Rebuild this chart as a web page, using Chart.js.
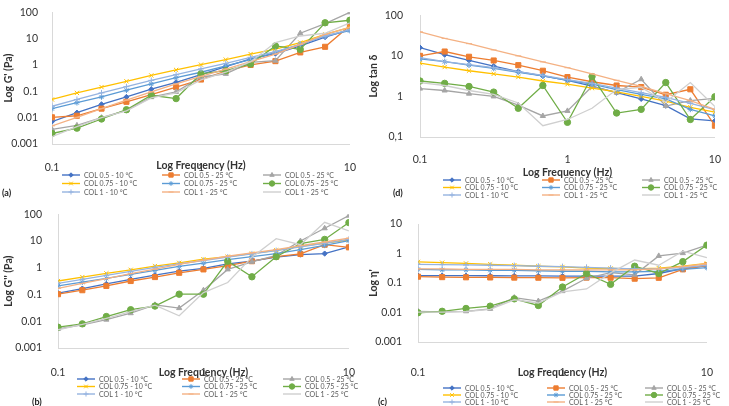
<!DOCTYPE html>
<html>
<head>
<meta charset="utf-8">
<script src="https://cdn.jsdelivr.net/npm/chart.js@4/dist/chart.umd.min.js"></script>
<style>
    body { margin: 0; background: #fff; }
    #wrap { position: relative; width: 729px; height: 406px; overflow: hidden; }
    .panel { position: absolute; }
</style>
</head>
<body>
<div id="wrap">
    <div class="panel" style="left:0;top:0"><canvas id="chartA" width="365" height="200"></canvas></div>
    <div class="panel" style="left:365px;top:0"><canvas id="chartD" width="364" height="200"></canvas></div>
    <div class="panel" style="left:0;top:200px"><canvas id="chartB" width="365" height="206"></canvas></div>
    <div class="panel" style="left:365px;top:200px"><canvas id="chartC" width="364" height="206"></canvas></div>
</div>
<script>
(function() {
    'use strict';

    // ---- data ----
    const frequency = [0.1, 0.147, 0.215, 0.316, 0.464, 0.681, 1, 1.468, 2.154, 3.162, 4.642, 6.813, 10];
    const xTickValues = [0.1, 1, 10];
    const xTickLabels = ['0.1', '1', '10'];

    const seriesNames = [
        'COL 0.5 - 10 °C', 'COL 0.5 - 25 °C', 'COL 0.5 - 25 °C',
        'COL 0.75 - 10 °C', 'COL 0.75 - 25 °C', 'COL 0.75 - 25 °C',
        'COL 1 - 10 °C', 'COL 1 - 25 °C', 'COL 1 - 25 °C'
    ];

    // (a) storage modulus G'
    const storageModulus = [
        [0.0071, 0.0155, 0.032, 0.061, 0.12, 0.22, 0.43, 0.87, 1.7, 2.7, 5.3, 11.5, 22],
        [0.0103, 0.0118, 0.022, 0.04, 0.075, 0.145, 0.28, 0.58, 1.0, 1.4, 3.0, 4.9, 31],
        [0.0036, 0.0051, 0.010, 0.019, 0.06, 0.095, 0.35, 0.46, 1.26, 1.45, 16, 37, 100],
        [0.049, 0.087, 0.145, 0.24, 0.4, 0.65, 1.03, 1.6, 2.6, 4.0, 7.1, 14.5, 27],
        [0.022, 0.037, 0.061, 0.11, 0.19, 0.33, 0.53, 0.92, 1.6, 3.0, 6.1, 12.6, 20],
        [0.0025, 0.004, 0.0089, 0.020, 0.071, 0.053, 0.46, 0.61, 1.09, 5.3, 3.9, 40, 50],
        [0.027, 0.049, 0.087, 0.15, 0.26, 0.43, 0.71, 1.15, 1.94, 3.2, 6.1, 12.6, 22],
        [0.0049, 0.0103, 0.022, 0.046, 0.095, 0.19, 0.37, 0.7, 1.33, 2.6, 6.1, 14.5, 27],
        [0.0019, 0.0046, 0.010, 0.018, 0.056, 0.087, 0.27, 0.53, 1.33, 7.1, 12.6, 16, 40]
    ];
    const storageTicks = [0.001, 0.01, 0.1, 1, 10, 100];
    const storageTickLabels = ['0.001', '0.01', '0.1', '1', '10', '100'];

    // (d) loss tangent tan δ
    const lossTangent = [
        [16, 10.7, 7.7, 5.6, 4.1, 3.2, 2.5, 1.8, 1.24, 0.87, 0.59, 0.28, 0.25],
        [10, 12.8, 9.5, 7.7, 5.9, 4.3, 3.0, 2.3, 1.86, 1.7, 1.1, 1.5, 0.19],
        [1.56, 1.4, 1.17, 1.0, 0.61, 0.33, 0.44, 1.76, 1.24, 2.65, 0.58, 0.79, 0.9],
        [6.6, 5.3, 4.3, 3.6, 3.0, 2.4, 2.0, 1.6, 1.3, 1.0, 0.77, 0.54, 0.41],
        [8.4, 7.2, 5.9, 4.9, 3.9, 3.2, 2.5, 2.0, 1.48, 1.13, 0.87, 0.48, 0.33],
        [2.4, 2.1, 1.76, 1.28, 0.51, 1.86, 0.23, 3.1, 0.39, 0.48, 2.2, 0.27, 0.98],
        [9.1, 7.2, 6.1, 5.1, 4.1, 3.3, 2.6, 2.1, 1.6, 1.24, 0.95, 0.67, 0.47],
        [39, 27, 20, 14, 10, 7.1, 5.1, 3.6, 2.5, 1.76, 1.17, 0.79, 0.48],
        [2.2, 1.86, 1.4, 1.13, 0.69, 0.19, 0.27, 0.51, 1.48, 1.67, 0.73, 2.2, 0.56]
    ];
    const tanTicks = [0.1, 1, 10, 100];
    const tanTickLabels = ['0,1', '1', '10', '100'];

    // (b) loss modulus G''
    const lossModulus = [
        [0.112, 0.167, 0.25, 0.37, 0.53, 0.75, 0.95, 1.4, 1.76, 2.5, 3.1, 3.4, 6.0],
        [0.103, 0.145, 0.21, 0.32, 0.45, 0.65, 0.87, 1.2, 1.76, 2.6, 3.3, 7.3, 5.8],
        [0.0052, 0.0074, 0.0115, 0.020, 0.041, 0.031, 0.145, 0.87, 1.67, 2.9, 10, 30, 89],
        [0.32, 0.45, 0.62, 0.84, 1.15, 1.53, 2.1, 2.6, 3.4, 4.5, 6.3, 8.4, 10.8],
        [0.21, 0.29, 0.40, 0.57, 0.8, 1.12, 1.49, 2.0, 2.6, 3.4, 4.8, 6.9, 10.3],
        [0.006, 0.008, 0.015, 0.027, 0.037, 0.103, 0.103, 1.76, 0.46, 2.6, 8.0, 11.5, 49],
        [0.26, 0.37, 0.52, 0.73, 1.03, 1.4, 1.87, 2.5, 3.3, 4.4, 6.0, 8.2, 11.8],
        [0.17, 0.26, 0.39, 0.6, 0.89, 1.33, 1.92, 2.7, 3.6, 4.8, 6.7, 9.2, 12.9],
        [0.0048, 0.0076, 0.0129, 0.023, 0.04, 0.016, 0.118, 0.28, 2.5, 12.2, 7.3, 50, 24]
    ];
    const lossTicks = [0.001, 0.01, 0.1, 1, 10, 100];
    const lossTickLabels = ['0.001', '0.01', '0.1', '1', '10', '100'];

    // (c) dynamic viscosity η'
    const viscosity = [
        [0.178, 0.178, 0.177, 0.176, 0.175, 0.174, 0.172, 0.17, 0.17, 0.17, 0.21, 0.31, 0.38],
        [0.164, 0.158, 0.156, 0.154, 0.152, 0.151, 0.15, 0.152, 0.151, 0.14, 0.15, 0.29, 0.4],
        [0.011, 0.0105, 0.011, 0.0133, 0.032, 0.0245, 0.053, 0.145, 0.225, 0.19, 0.83, 1.03, 1.92],
        [0.52, 0.49, 0.46, 0.43, 0.40, 0.37, 0.35, 0.32, 0.31, 0.30, 0.32, 0.37, 0.46],
        [0.29, 0.28, 0.28, 0.27, 0.27, 0.26, 0.25, 0.25, 0.24, 0.24, 0.25, 0.29, 0.33],
        [0.0098, 0.011, 0.0137, 0.0164, 0.029, 0.0173, 0.073, 0.21, 0.09, 0.37, 0.21, 0.53, 1.92],
        [0.43, 0.42, 0.41, 0.40, 0.39, 0.37, 0.36, 0.34, 0.32, 0.30, 0.30, 0.33, 0.40],
        [0.30, 0.30, 0.29, 0.29, 0.29, 0.28, 0.28, 0.28, 0.28, 0.28, 0.30, 0.36, 0.45],
        [0.0103, 0.0103, 0.0108, 0.0128, 0.027, 0.021, 0.05, 0.063, 0.22, 0.6, 0.4, 1.2, 0.73]
    ];
    const viscTicks = [0.001, 0.01, 0.1, 1, 10];
    const viscTickLabels = ['0.001', '0.01', '0.1', '1', '10'];

    // ---- styles (Excel-like palette) ----
    const colors = ['#4472C4', '#ED7D31', '#A5A5A5', '#FFC000', '#5B9BD5', '#70AD47', '#95B3E0', '#F4B183', '#CFCFCF'];
    const markers = ['rectRot', 'rect', 'triangle', 'crossRot', 'star', 'circle', 'cross', 'line', 'circle'];
    const markerSizes = [2.6, 3.6, 3, 3, 2.8, 3.2, 3, 3, 0];
    const FONT = 'Lato, "Open Sans", sans-serif';

    // Legend in 3 columns x 3 rows + panel tag, drawn under the plot
    const gridLegend = {
        id: 'gridLegend',
        afterDraw(chart, args, opts) {
            const ctx = chart.ctx;
            ctx.save();
            ctx.textBaseline = 'middle';
            chart.data.datasets.forEach((ds, i) => {
                const x = opts.cols[i % 3];
                const y = opts.top + Math.floor(i / 3) * opts.rowH;
                ctx.strokeStyle = ds.borderColor;
                ctx.lineWidth = 1.4;
                ctx.beginPath();
                ctx.moveTo(x, y);
                ctx.lineTo(x + 18, y);
                ctx.stroke();
                if (ds.pointRadius > 0) {
                    ctx.fillStyle = ds.borderColor;
                    ctx.lineWidth = 1;
                    Chart.helpers.drawPoint(ctx, {
                        pointStyle: ds.pointStyle,
                        radius: ds.pointRadius * 0.85,
                        borderWidth: 1
                    }, x + 9, y);
                }
                ctx.font = '7px ' + FONT;
                ctx.fillStyle = '#595959';
                ctx.fillText(ds.label, x + 22, y + 0.5);
            });
            ctx.font = 'bold 9px ' + FONT;
            ctx.fillStyle = '#222';
            ctx.fillText(opts.tag, opts.tagX, opts.tagY);
            ctx.restore();
        }
    };

    function buildChart(id, cfg) {
        const datasets = cfg.values.map((row, i) => ({
            label: seriesNames[i],
            data: row.map((v, k) => ({ x: frequency[k], y: v })),
            borderColor: colors[i],
            backgroundColor: colors[i],
            borderWidth: 1.3,
            pointStyle: markers[i],
            pointRadius: markerSizes[i],
            pointBorderWidth: 1,
            tension: 0,
            order: 8 - i
        }));

        return new Chart(document.getElementById(id), {
            type: 'line',
            data: { datasets: datasets },
            plugins: [gridLegend],
            options: {
                responsive: false,
                animation: false,
                layout: { padding: cfg.padding },
                plugins: {
                    legend: { display: false },
                    tooltip: { enabled: false },
                    gridLegend: cfg.legend
                },
                scales: {
                    x: {
                        type: 'logarithmic',
                        min: 0.1,
                        max: 10,
                        grid: { display: false },
                        border: { display: true, color: '#D9D9D9', width: 1 },
                        afterBuildTicks: scale => { scale.ticks = xTickValues.map(v => ({ value: v })); },
                        afterFit: scale => { scale.height = cfg.xHeight; },
                        ticks: {
                            autoSkip: false,
                            maxRotation: 0,
                            padding: cfg.xPad,
                            color: '#333',
                            font: { family: FONT, size: 10.5 },
                            callback: v => xTickLabels[xTickValues.indexOf(v)]
                        },
                        title: {
                            display: true,
                            text: 'Log Frequency (Hz)',
                            color: '#333',
                            padding: 0,
                            font: { family: FONT, size: 10.5, weight: 'bold' }
                        }
                    },
                    y: {
                        type: 'logarithmic',
                        min: cfg.yTicks[0],
                        max: cfg.yTicks[cfg.yTicks.length - 1],
                        grid: { display: false },
                        border: { display: true, color: '#D9D9D9', width: 1 },
                        afterBuildTicks: scale => { scale.ticks = cfg.yTicks.map(v => ({ value: v })); },
                        afterFit: scale => { scale.width = cfg.yWidth; },
                        ticks: {
                            autoSkip: false,
                            padding: cfg.yPad,
                            color: '#333',
                            font: { family: FONT, size: 10.5 },
                            callback: v => cfg.yLabels[cfg.yTicks.indexOf(v)]
                        },
                        title: {
                            display: true,
                            text: cfg.yTitle,
                            color: '#333',
                            padding: { top: 2, bottom: 0 },
                            font: { family: FONT, size: 10.5, weight: 'bold' }
                        }
                    }
                }
            }
        });
    }

    document.addEventListener('DOMContentLoaded', function() {
        buildChart('chartA', {
            values: storageModulus, yTicks: storageTicks, yLabels: storageTickLabels,
            yTitle: "Log G' (Pa)", yWidth: 52, yPad: 6, xHeight: 28, xPad: 9,
            padding: { top: 11, right: 7, bottom: 28, left: 0 },
            legend: { cols: [62, 162, 263], top: 175, rowH: 8.5, tag: '(a)', tagX: 2, tagY: 193 }
        });
        buildChart('chartD', {
            values: lossTangent, yTicks: tanTicks, yLabels: tanTickLabels,
            yTitle: 'Log tan δ', yWidth: 55, yPad: 9, xHeight: 42, xPad: 8,
            padding: { top: 7, right: 6, bottom: 21, left: 0 },
            legend: { cols: [78, 177, 277], top: 180, rowH: 7.5, tag: '(d)', tagX: 28, tagY: 193 }
        });
        buildChart('chartB', {
            values: lossModulus, yTicks: lossTicks, yLabels: lossTickLabels,
            yTitle: "Log G'' (Pa)", yWidth: 58, yPad: 8, xHeight: 31, xPad: 10,
            padding: { top: 13, right: 11, bottom: 27, left: 0 },
            legend: { cols: [77, 182, 283], top: 179, rowH: 7.5, tag: '(b)', tagX: 32, tagY: 202 }
        });
        buildChart('chartC', {
            values: viscosity, yTicks: viscTicks, yLabels: viscTickLabels,
            yTitle: "Log η'", yWidth: 53, yPad: 8, xHeight: 37, xPad: 16,
            padding: { top: 24, right: 9, bottom: 27, left: 0 },
            legend: { cols: [78, 182, 280], top: 188, rowH: 7, tag: '(c)', tagX: 13, tagY: 202 }
        });
    });
})();
</script>
</body>
</html>
